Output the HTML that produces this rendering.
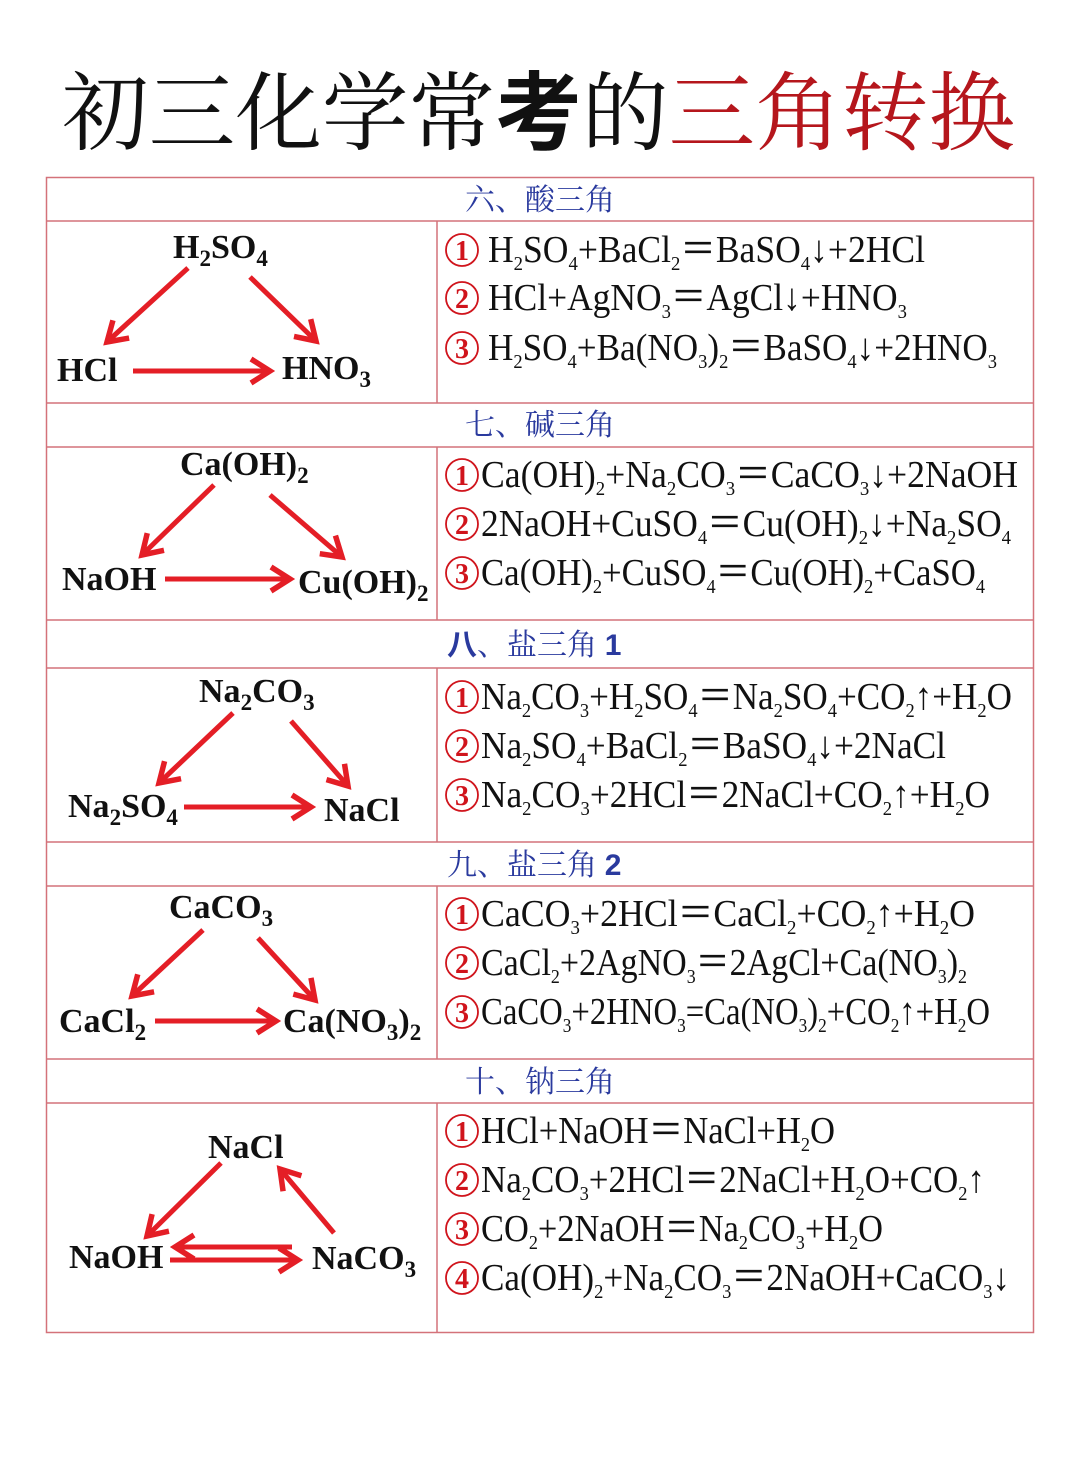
<!DOCTYPE html>
<html><head><meta charset="utf-8">
<style>
html,body{margin:0;padding:0;background:#fff;}
svg{display:block}
.t{font-family:"Noto Serif CJK SC",serif;}
.eq{font-family:"Liberation Serif",serif;font-size:38px;fill:#111;}
.d{font-family:"Liberation Serif",serif;font-size:34px;font-weight:bold;fill:#111;}
.s{font-size:20px;baseline-shift:-8px;}
.ds{font-size:23px;baseline-shift:-8px;}
.h{font-family:"Noto Serif CJK SC","Noto Sans CJK SC",serif;font-size:30px;fill:#2a3a9e;}
.hs{font-family:"Liberation Sans",sans-serif;font-weight:bold;}
.cn{font-family:"Liberation Serif",serif;font-size:28px;font-weight:bold;fill:#d0141c;}
.ar{stroke:#e41e26;stroke-width:5;fill:none;}
</style></head>
<body>
<svg width="1080" height="1469" viewBox="0 0 1080 1469" xmlns="http://www.w3.org/2000/svg">
<defs>
<marker id="m" markerUnits="userSpaceOnUse" markerWidth="34" markerHeight="34" refX="22" refY="14" orient="auto" viewBox="0 0 34 28">
<path d="M3,2 L22,14 L3,26" stroke="#e41e26" stroke-width="5.5" fill="none"/>
</marker>
</defs>
<rect width="1080" height="1469" fill="#fff"/>
<text class="t" x="62" y="143" font-size="86" textLength="953" lengthAdjust="spacingAndGlyphs"><tspan fill="#111">初三化学常</tspan><tspan fill="#111" font-weight="bold" font-family="Noto Sans CJK SC, sans-serif">考</tspan><tspan fill="#111">的</tspan><tspan fill="#b5161c">三角转换</tspan></text>

<g stroke="#d4727a" stroke-width="1.5" fill="none">
<rect x="46.5" y="177.5" width="987" height="1155"/>
<line x1="46" y1="221" x2="1033" y2="221"/>
<line x1="46" y1="403" x2="1033" y2="403"/>
<line x1="46" y1="447" x2="1033" y2="447"/>
<line x1="46" y1="620" x2="1033" y2="620"/>
<line x1="46" y1="668" x2="1033" y2="668"/>
<line x1="46" y1="842" x2="1033" y2="842"/>
<line x1="46" y1="886" x2="1033" y2="886"/>
<line x1="46" y1="1059" x2="1033" y2="1059"/>
<line x1="46" y1="1103" x2="1033" y2="1103"/>
<line x1="437" y1="221" x2="437" y2="403"/>
<line x1="437" y1="447" x2="437" y2="620"/>
<line x1="437" y1="668" x2="437" y2="842"/>
<line x1="437" y1="886" x2="437" y2="1059"/>
<line x1="437" y1="1103" x2="437" y2="1332"/>
</g>

<text class="h" x="540" y="210" text-anchor="middle">六、酸三角</text>
<text class="h" x="540" y="435" text-anchor="middle">七、碱三角</text>
<text class="h" x="447" y="655"><tspan font-weight="bold" font-family="Noto Sans CJK SC, sans-serif">八</tspan>、盐三角 <tspan class="hs">1</tspan></text>
<text class="h" x="447" y="875">九、盐三角 <tspan class="hs" font-weight="normal">2</tspan></text>
<text class="h" x="540" y="1092" text-anchor="middle">十、钠三角</text>

<g fill="none" stroke="#d0141c" stroke-width="1.8">
<circle cx="462" cy="250" r="16"/><circle cx="462" cy="298" r="16"/><circle cx="462" cy="348" r="16"/>
<circle cx="462" cy="475" r="16"/><circle cx="462" cy="524" r="16"/><circle cx="462" cy="573" r="16"/>
<circle cx="462" cy="697" r="16"/><circle cx="462" cy="746" r="16"/><circle cx="462" cy="795" r="16"/>
<circle cx="462" cy="914" r="16"/><circle cx="462" cy="963" r="16"/><circle cx="462" cy="1012" r="16"/>
<circle cx="462" cy="1131" r="16"/><circle cx="462" cy="1180" r="16"/><circle cx="462" cy="1229" r="16"/><circle cx="462" cy="1278" r="16"/>
</g>
<g class="cn" text-anchor="middle">
<text x="462" y="260">1</text><text x="462" y="308">2</text><text x="462" y="358">3</text>
<text x="462" y="485">1</text><text x="462" y="534">2</text><text x="462" y="583">3</text>
<text x="462" y="707">1</text><text x="462" y="756">2</text><text x="462" y="805">3</text>
<text x="462" y="924">1</text><text x="462" y="973">2</text><text x="462" y="1022">3</text>
<text x="462" y="1141">1</text><text x="462" y="1190">2</text><text x="462" y="1239">3</text><text x="462" y="1288">4</text>
</g>

<g class="eq">
<text x="488" y="262" textLength="437" lengthAdjust="spacingAndGlyphs">H<tspan class="s">2</tspan>SO<tspan class="s">4</tspan>+BaCl<tspan class="s">2</tspan>＝BaSO<tspan class="s">4</tspan>↓+2HCl</text>
<text x="488" y="310" textLength="419" lengthAdjust="spacingAndGlyphs">HCl+AgNO<tspan class="s">3</tspan>＝AgCl↓+HNO<tspan class="s">3</tspan></text>
<text x="488" y="360" textLength="509" lengthAdjust="spacingAndGlyphs">H<tspan class="s">2</tspan>SO<tspan class="s">4</tspan>+Ba(NO<tspan class="s">3</tspan>)<tspan class="s">2</tspan>＝BaSO<tspan class="s">4</tspan>↓+2HNO<tspan class="s">3</tspan></text>

<text x="481" y="487" textLength="537" lengthAdjust="spacingAndGlyphs">Ca(OH)<tspan class="s">2</tspan>+Na<tspan class="s">2</tspan>CO<tspan class="s">3</tspan>＝CaCO<tspan class="s">3</tspan>↓+2NaOH</text>
<text x="481" y="536" textLength="530" lengthAdjust="spacingAndGlyphs">2NaOH+CuSO<tspan class="s">4</tspan>＝Cu(OH)<tspan class="s">2</tspan>↓+Na<tspan class="s">2</tspan>SO<tspan class="s">4</tspan></text>
<text x="481" y="585" textLength="504" lengthAdjust="spacingAndGlyphs">Ca(OH)<tspan class="s">2</tspan>+CuSO<tspan class="s">4</tspan>＝Cu(OH)<tspan class="s">2</tspan>+CaSO<tspan class="s">4</tspan></text>

<text x="481" y="709" textLength="531" lengthAdjust="spacingAndGlyphs">Na<tspan class="s">2</tspan>CO<tspan class="s">3</tspan>+H<tspan class="s">2</tspan>SO<tspan class="s">4</tspan>＝Na<tspan class="s">2</tspan>SO<tspan class="s">4</tspan>+CO<tspan class="s">2</tspan>↑+H<tspan class="s">2</tspan>O</text>
<text x="481" y="758" textLength="465" lengthAdjust="spacingAndGlyphs">Na<tspan class="s">2</tspan>SO<tspan class="s">4</tspan>+BaCl<tspan class="s">2</tspan>＝BaSO<tspan class="s">4</tspan>↓+2NaCl</text>
<text x="481" y="807" textLength="509" lengthAdjust="spacingAndGlyphs">Na<tspan class="s">2</tspan>CO<tspan class="s">3</tspan>+2HCl＝2NaCl+CO<tspan class="s">2</tspan>↑+H<tspan class="s">2</tspan>O</text>

<text x="481" y="926" textLength="494" lengthAdjust="spacingAndGlyphs">CaCO<tspan class="s">3</tspan>+2HCl＝CaCl<tspan class="s">2</tspan>+CO<tspan class="s">2</tspan>↑+H<tspan class="s">2</tspan>O</text>
<text x="481" y="975" textLength="486" lengthAdjust="spacingAndGlyphs">CaCl<tspan class="s">2</tspan>+2AgNO<tspan class="s">3</tspan>＝2AgCl+Ca(NO<tspan class="s">3</tspan>)<tspan class="s">2</tspan></text>
<text x="481" y="1024" textLength="509" lengthAdjust="spacingAndGlyphs">CaCO<tspan class="s">3</tspan>+2HNO<tspan class="s">3</tspan>=Ca(NO<tspan class="s">3</tspan>)<tspan class="s">2</tspan>+CO<tspan class="s">2</tspan>↑+H<tspan class="s">2</tspan>O</text>

<text x="481" y="1143" textLength="354" lengthAdjust="spacingAndGlyphs">HCl+NaOH＝NaCl+H<tspan class="s">2</tspan>O</text>
<text x="481" y="1192" textLength="504" lengthAdjust="spacingAndGlyphs">Na<tspan class="s">2</tspan>CO<tspan class="s">3</tspan>+2HCl＝2NaCl+H<tspan class="s">2</tspan>O+CO<tspan class="s">2</tspan>↑</text>
<text x="481" y="1241" textLength="402" lengthAdjust="spacingAndGlyphs">CO<tspan class="s">2</tspan>+2NaOH＝Na<tspan class="s">2</tspan>CO<tspan class="s">3</tspan>+H<tspan class="s">2</tspan>O</text>
<text x="481" y="1290" textLength="529" lengthAdjust="spacingAndGlyphs">Ca(OH)<tspan class="s">2</tspan>+Na<tspan class="s">2</tspan>CO<tspan class="s">3</tspan>＝2NaOH+CaCO<tspan class="s">3</tspan>↓</text>
</g>

<g class="d">
<text x="173" y="258">H<tspan class="ds">2</tspan>SO<tspan class="ds">4</tspan></text>
<text x="57" y="381">HCl</text>
<text x="282" y="379">HNO<tspan class="ds">3</tspan></text>

<text x="180" y="475">Ca(OH)<tspan class="ds">2</tspan></text>
<text x="62" y="590">NaOH</text>
<text x="298" y="593">Cu(OH)<tspan class="ds">2</tspan></text>

<text x="199" y="702">Na<tspan class="ds">2</tspan>CO<tspan class="ds">3</tspan></text>
<text x="68" y="817">Na<tspan class="ds">2</tspan>SO<tspan class="ds">4</tspan></text>
<text x="324" y="821">NaCl</text>

<text x="169" y="918">CaCO<tspan class="ds">3</tspan></text>
<text x="59" y="1032">CaCl<tspan class="ds">2</tspan></text>
<text x="283" y="1032">Ca(NO<tspan class="ds">3</tspan>)<tspan class="ds">2</tspan></text>

<text x="208" y="1158">NaCl</text>
<text x="69" y="1268">NaOH</text>
<text x="312" y="1269">NaCO<tspan class="ds">3</tspan></text>
</g>

<g class="ar">
<line x1="188" y1="268" x2="107" y2="342" marker-end="url(#m)"/>
<line x1="250" y1="277" x2="316" y2="341" marker-end="url(#m)"/>
<line x1="133" y1="371" x2="270" y2="371" marker-end="url(#m)"/>

<line x1="214" y1="485" x2="142" y2="555" marker-end="url(#m)"/>
<line x1="270" y1="495" x2="342" y2="557" marker-end="url(#m)"/>
<line x1="165" y1="579" x2="290" y2="579" marker-end="url(#m)"/>

<line x1="233" y1="713" x2="159" y2="783" marker-end="url(#m)"/>
<line x1="291" y1="721" x2="348" y2="786" marker-end="url(#m)"/>
<line x1="184" y1="807" x2="311" y2="807" marker-end="url(#m)"/>

<line x1="203" y1="930" x2="132" y2="996" marker-end="url(#m)"/>
<line x1="258" y1="938" x2="315" y2="1000" marker-end="url(#m)"/>
<line x1="155" y1="1021" x2="276" y2="1021" marker-end="url(#m)"/>

<line x1="221" y1="1163" x2="147" y2="1236" marker-end="url(#m)"/>
<line x1="334" y1="1233" x2="280" y2="1169" marker-end="url(#m)"/>
<line x1="292" y1="1247" x2="175" y2="1247" marker-end="url(#m)"/>
<line x1="170" y1="1260" x2="298" y2="1260" marker-end="url(#m)"/>
</g>
</svg>
</body></html>
